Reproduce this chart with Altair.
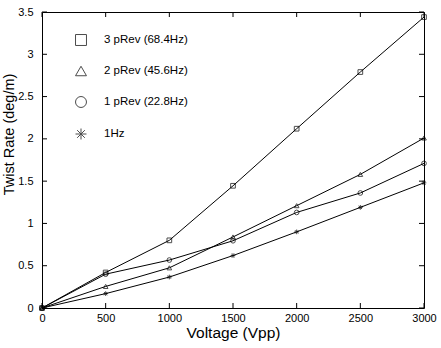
import altair as alt
import pandas as pd

# Twist rate of the blade against drive voltage, one series per excitation frequency
voltage = [0, 500, 1000, 1500, 2000, 2500, 3000]
series_names = ["3 pRev (68.4Hz)", "2 pRev (45.6Hz)", "1 pRev (22.8Hz)", "1Hz"]
rate_3prev = [0.0, 0.42, 0.80, 1.445, 2.12, 2.79, 3.44]
rate_2prev = [0.0, 0.255, 0.475, 0.84, 1.21, 1.58, 2.01]
rate_1prev = [0.0, 0.40, 0.567, 0.795, 1.13, 1.36, 1.71]
rate_1hz = [0.0, 0.17, 0.366, 0.62, 0.90, 1.19, 1.48]

x_ticks = [0, 500, 1000, 1500, 2000, 2500, 3000]
y_ticks = [0, 0.5, 1, 1.5, 2, 2.5, 3, 3.5]

rows = []
for name, vals in zip(series_names, [rate_3prev, rate_2prev, rate_1prev, rate_1hz]):
    for v, r in zip(voltage, vals):
        rows.append({"series": name, "voltage": v, "rate": r})
df = pd.DataFrame(rows)

W, H = 382, 296
FONT = "Liberation Sans"
asterisk = "M-1,0H1M0,-1V1M-0.7,-0.7L0.7,0.7M-0.7,0.7L0.7,-0.7"

xs = alt.Scale(domain=[0, 3000], nice=False)
ys = alt.Scale(domain=[0, 3.5], nice=False)

x_enc = alt.X("voltage:Q", scale=xs,
              axis=alt.Axis(values=x_ticks, ticks=False, title="Voltage (Vpp)",
                            format="d", labelFontSize=11, titleFontSize=15.5,
                            labelPadding=4, titlePadding=2, labelFlush=False,
                            grid=False, domain=False, titleFontWeight="normal"))
y_enc = alt.Y("rate:Q", scale=ys,
              axis=alt.Axis(values=y_ticks, ticks=False, title="Twist Rate (deg/m)",
                            format=".1~f", labelFontSize=11, titleFontSize=14.5,
                            labelPadding=9, titlePadding=1, titleY=122, labelFlush=False,
                            grid=False, domain=False, titleFontWeight="normal"))

lines = alt.Chart(df).mark_line(color="black", strokeWidth=1).encode(
    x=x_enc, y=y_enc, detail="series:N"
)

points = alt.Chart(df).mark_point(color="black", filled=False, size=22, strokeWidth=1).encode(
    x=x_enc, y=y_enc,
    shape=alt.Shape("series:N",
                    scale=alt.Scale(domain=series_names,
                                    range=["square", "triangle-up", "circle", asterisk]),
                    legend=alt.Legend(orient="none", legendX=33, legendY=22, title=None,
                                      symbolSize=120, symbolStrokeWidth=1,
                                      symbolStrokeColor="black", symbolFillColor="white",
                                      labelFont=FONT, labelFontSize=11.5,
                                      rowPadding=16, labelOffset=17)),
)

# Inward tick marks on all four sides of the frame
xt = pd.DataFrame({"voltage": x_ticks})
yt = pd.DataFrame({"rate": y_ticks})
tick_bottom = alt.Chart(xt).mark_rule(color="black", strokeWidth=1).encode(
    x=alt.X("voltage:Q", scale=xs), y=alt.value(H), y2=alt.value(H - 5))
tick_top = alt.Chart(xt).mark_rule(color="black", strokeWidth=1).encode(
    x=alt.X("voltage:Q", scale=xs), y=alt.value(0), y2=alt.value(5))
tick_left = alt.Chart(yt).mark_rule(color="black", strokeWidth=1).encode(
    y=alt.Y("rate:Q", scale=ys), x=alt.value(0), x2=alt.value(5))
tick_right = alt.Chart(yt).mark_rule(color="black", strokeWidth=1).encode(
    y=alt.Y("rate:Q", scale=ys), x=alt.value(W), x2=alt.value(W - 5))

chart = alt.layer(lines, points, tick_bottom, tick_top, tick_left, tick_right).properties(
    width=W, height=H,
    autosize=alt.AutoSizeParams(type="none"),
    padding={"left": 42, "top": 12, "right": 17, "bottom": 40},
    background="white",
).configure_view(
    stroke="black", strokeWidth=1
).configure_axis(
    labelFont=FONT, titleFont=FONT, labelColor="black", titleColor="black"
)

chart.save("out.html", embed_options={"renderer": "svg", "actions": False})
